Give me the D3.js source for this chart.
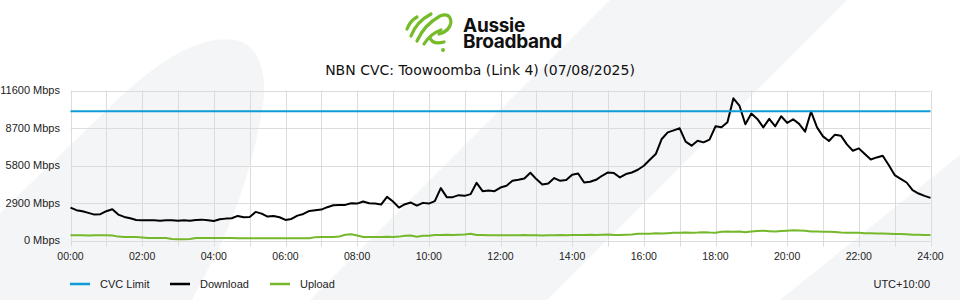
<!DOCTYPE html>
<html>
<head>
<meta charset="utf-8">
<script src="https://cdn.jsdelivr.net/npm/d3@7"></script>
<style>
  html, body { margin: 0; padding: 0; background: #ffffff; }
  svg { display: block; }
</style>
</head>
<body>
<div id="chart"></div>
<script>
// ---------------- DATA ----------------
const title = "NBN CVC: Toowoomba (Link 4) (07/08/2025)";
const yTicks = [0, 2900, 5800, 8700, 11600];
const xTickLabels = ["00:00","02:00","04:00","06:00","08:00","10:00","12:00","14:00","16:00","18:00","20:00","22:00","24:00"];
const xTickHours = [0,2,4,6,8,10,12,14,16,18,20,22,24];
const seriesNames = ["CVC Limit", "Download", "Upload"];
const brandLines = ["Aussie", "Broadband"];
const cvcLimit = 10000;
// 10-minute samples, 00:00 .. 24:00 (145 points)
const download = [
  2545,2343,2266,2134,2002,2033,2266,2421,2002,1823,1723,1591,1567,1567,1567,1536,1567,1567,1536,1567,
  1536,1591,1614,1567,1513,1645,1692,1723,1901,1800,1823,2211,2079,1847,1901,1800,1591,1668,1924,2056,
  2289,2343,2390,2576,2731,2754,2754,2886,2855,3011,2886,2855,2778,3375,3011,2545,2809,2933,2700,2910,
  2855,3042,4050,3352,3352,3507,3453,3585,4462,3817,3864,3817,4097,4229,4617,4694,4795,5237,4749,4330,
  4407,4826,4617,4671,5082,5183,4485,4539,4694,5005,5261,5214,4873,5137,5261,5470,5781,6246,6688,7852,
  8364,8520,8675,7643,7332,7720,7589,7798,8830,8752,9140,11000,10436,8985,9815,9404,8752,9404,8830,9606,
  9094,9373,9016,8419,9971,8752,8054,7697,8186,8108,7433,6944,7123,6688,6269,6425,6557,5835,5059,4772,
  4485,3895,3631,3453,3298
];
const upload = [
  400,410,400,395,400,405,400,380,300,280,270,270,230,200,194,194,190,110,100,100,
  110,194,194,190,194,194,194,190,170,170,175,170,170,170,170,170,170,175,170,170,
  180,260,270,272,275,300,450,480,380,272,270,275,272,290,272,300,372,380,290,360,
  372,420,430,440,430,440,460,520,430,420,410,400,400,400,410,400,420,410,400,390,
  400,410,420,410,420,430,427,440,430,440,460,430,420,450,460,520,527,530,560,540,
  570,600,605,620,600,610,640,610,600,670,690,680,690,640,700,740,760,720,690,740,
  760,790,780,760,700,690,680,670,660,620,605,600,590,560,560,550,540,520,505,500,
  480,450,440,420,430
];
const timezoneLabel = "UTC+10:00";

// ---------------- CHART ----------------
const W = 960, H = 300;
const colors = { cvc: "#0f9bd7", down: "#000000", up: "#75b82b", grid: "#dcdcdc", bgShape: "#f4f5f7" };
const smallFont = "Liberation Sans";
const svg = d3.select("#chart").append("svg").attr("width", W).attr("height", H);

// decorative background shapes
const bg = svg.append("g");
bg.append("path").attr("fill", colors.bgShape)
  .attr("d", "M0,213 L117,100 C160,60 200,35 235,40 C262,45 268,80 262,110 C256,150 240,205 218,250 L192,300 L0,300 Z");
bg.append("path").attr("fill", colors.bgShape)
  .attr("d", "M610,0 L847,0 L547,300 L310,300 Z");
bg.append("path").attr("fill", colors.bgShape)
  .attr("d", "M780,300 L960,155 L960,300 Z");

// logo
const logo = svg.append("g").attr("fill", "none").attr("stroke", "#76bc2a").attr("stroke-width", 3.2).attr("stroke-linecap", "round");
logo.append("path").attr("d", "M407,29 Q410,21 417,17");
logo.append("path").attr("d", "M411,36 Q416,22 431,14");
logo.append("path").attr("d", "M417,41 Q424,25 440,16 Q450,12 451,22 Q450,31 439,34");
logo.append("path").attr("d", "M424,44 Q430,34 441,30");
logo.append("path").attr("d", "M430,38 Q433,45 444,42");
logo.append("circle").attr("cx", 443).attr("cy", 50).attr("r", 2).attr("fill", "#76bc2a").attr("stroke", "none");
const brand = svg.append("text").attr("font-family", "Inter").attr("font-weight", 700)
  .attr("font-size", 19).attr("letter-spacing", -0.3).attr("fill", "#111");
brand.selectAll("tspan").data(brandLines).join("tspan")
  .attr("x", 463).attr("y", (d, i) => i === 0 ? 32 : 48).text(d => d);

// title
svg.append("text").attr("x", 480).attr("y", 75).attr("text-anchor", "middle")
  .attr("font-family", "DejaVu Sans").attr("font-size", 14).attr("fill", "#111").text(title);

const x = d3.scaleLinear().domain([0, 24]).range([70.5, 930.5]);
const y = d3.scaleLinear().domain([0, 11600]).range([240.5, 90.5]);

// grid
const grid = svg.append("g").attr("stroke", colors.grid).attr("stroke-width", 1);
grid.selectAll("line.h").data(yTicks).join("line")
  .attr("x1", x(0)).attr("x2", x(24)).attr("y1", d => Math.round(y(d)) + 0.5).attr("y2", d => Math.round(y(d)) + 0.5);
grid.selectAll("line.v").data(d3.range(0, 25)).join("line")
  .attr("y1", y(11600)).attr("y2", y(0) + 6).attr("x1", d => Math.round(x(d)) + 0.5).attr("x2", d => Math.round(x(d)) + 0.5);

// y labels
svg.append("g").selectAll("text").data(yTicks).join("text")
  .attr("x", 60).attr("y", d => y(d)).attr("dy", "0.35em").attr("text-anchor", "end")
  .attr("font-family", smallFont).attr("font-size", 11).attr("fill", "#222")
  .text(d => d + " Mbps");

// x labels
svg.append("g").selectAll("text").data(xTickHours).join("text")
  .attr("x", d => x(d)).attr("y", 260).attr("text-anchor", "middle")
  .attr("font-family", smallFont).attr("font-size", 10.5).attr("fill", "#222")
  .text((d, i) => xTickLabels[i]);

// series
const times = download.map((_, i) => i / 6);
const line = d3.line().x((d, i) => x(times[i])).y(d => y(d));
svg.append("path").datum(upload).attr("d", line).attr("fill", "none")
  .attr("stroke", colors.up).attr("stroke-width", 2).attr("stroke-linejoin", "round");
svg.append("path").datum(download).attr("d", line).attr("fill", "none")
  .attr("stroke", colors.down).attr("stroke-width", 2).attr("stroke-linejoin", "round");
svg.append("line").attr("x1", x(0)).attr("x2", x(24)).attr("y1", y(cvcLimit)).attr("y2", y(cvcLimit))
  .attr("stroke", colors.cvc).attr("stroke-width", 2);

// legend
const legendColors = [colors.cvc, colors.down, colors.up];
const legendX = [70, 170, 270];
const lg = svg.append("g").selectAll("g").data(seriesNames).join("g")
  .attr("transform", (d, i) => `translate(${legendX[i]},284)`);
lg.append("line").attr("x1", 0).attr("x2", 20).attr("y1", 0).attr("y2", 0)
  .attr("stroke", (d, i) => legendColors[i]).attr("stroke-width", 2.5);
lg.append("text").attr("x", 30).attr("y", 0).attr("dy", "0.35em")
  .attr("font-family", smallFont).attr("font-size", 11).attr("fill", "#222").text(d => d);

svg.append("text").attr("x", 930).attr("y", 284).attr("dy", "0.35em").attr("text-anchor", "end")
  .attr("font-family", smallFont).attr("font-size", 11).attr("fill", "#222").text(timezoneLabel);
</script>
</body>
</html>
